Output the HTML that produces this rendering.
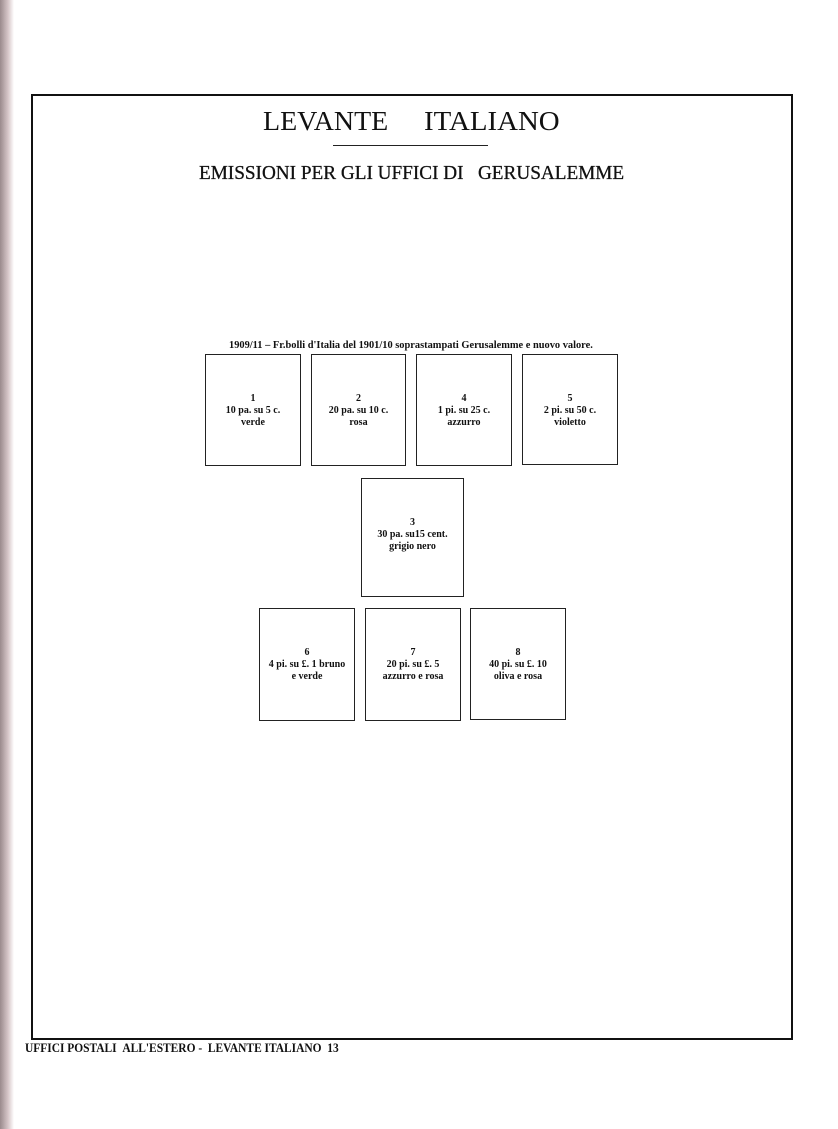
<!DOCTYPE html>
<html><head><meta charset="utf-8"><style>
body{margin:0;width:838px;height:1129px;background:#fff;position:relative;overflow:hidden;font-family:"Liberation Serif",serif;color:#111}
.edge{position:absolute;left:0;top:0;width:14px;height:1129px;background:linear-gradient(to right,#9a8a8c,#d9c9cb 60%,#fff)}
.frame{position:absolute;left:31px;top:94px;width:758px;height:942px;border:2px solid #111}
.t{position:absolute;white-space:nowrap;text-align:center}
.b{position:absolute;border:1.3px solid #222;box-sizing:border-box;text-align:center;font-size:10px;line-height:12px;font-weight:bold;white-space:nowrap}
.b div{position:absolute;left:0;right:0;top:38px}
</style></head><body>
<div class="edge"></div>
<div class="frame"></div>
<div class="t" style="left:263px;top:106px;font-size:27px;transform:scaleX(1.035);transform-origin:left">LEVANTE</div>
<div class="t" style="left:424px;top:106px;font-size:27px;transform:scaleX(1.07);transform-origin:left">ITALIANO</div>
<div style="position:absolute;left:333px;top:145px;width:155px;border-top:1px solid #222"></div>
<div class="t" style="left:199px;top:162px;font-size:20px;-webkit-text-stroke:0.3px #111;transform:scaleX(0.96);transform-origin:left">EMISSIONI PER GLI UFFICI DI&nbsp;&nbsp;&nbsp;GERUSALEMME</div>
<div class="t" style="left:229px;top:340px;font-size:10.5px;font-weight:bold;transform:scaleX(0.99);transform-origin:left">1909/11 – Fr.bolli d'Italia del 1901/10 soprastampati Gerusalemme e nuovo valore.</div>
<div class="b" style="left:205px;top:354px;width:96px;height:112px"><div>1<br>10 pa. su 5 c.<br>verde</div></div>
<div class="b" style="left:311px;top:354px;width:95px;height:112px"><div>2<br>20 pa. su 10 c.<br>rosa</div></div>
<div class="b" style="left:416px;top:354px;width:96px;height:112px"><div>4<br>1 pi. su 25 c.<br>azzurro</div></div>
<div class="b" style="left:522px;top:354px;width:96px;height:111px"><div>5<br>2 pi. su 50 c.<br>violetto</div></div>
<div class="b" style="left:361px;top:478px;width:103px;height:119px"><div>3<br>30 pa. su15 cent.<br>grigio nero</div></div>
<div class="b" style="left:259px;top:608px;width:96px;height:113px"><div>6<br>4 pi. su £. 1 bruno<br>e verde</div></div>
<div class="b" style="left:365px;top:608px;width:96px;height:113px"><div>7<br>20 pi. su £. 5<br>azzurro e rosa</div></div>
<div class="b" style="left:470px;top:608px;width:96px;height:112px"><div>8<br>40 pi. su £. 10<br>oliva e rosa</div></div>
<div class="t" style="left:25px;top:1040px;font-size:13px;font-weight:bold;transform:scaleX(0.88);transform-origin:left">UFFICI POSTALI&nbsp;&nbsp;ALL'ESTERO -&nbsp;&nbsp;LEVANTE ITALIANO&nbsp;&nbsp;13</div>
</body></html>
